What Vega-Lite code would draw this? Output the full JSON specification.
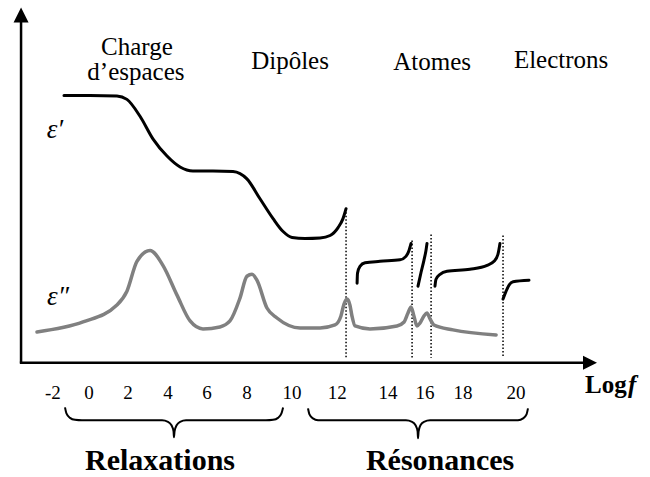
{
  "$schema": "https://vega.github.io/schema/vega-lite/v6.json",
  "width": 650,
  "height": 477,
  "autosize": {"type": "fit", "contains": "padding"},
  "padding": 0,
  "background": "white",
  "config": {"view": {"stroke": null}},
  "datasets": {
    "axes": [
      {"x": -3.27, "y": 0, "x2": -3.27, "y2": 34.3},
      {"x": -3.33, "y": 0, "x2": 24.32, "y2": 0}
    ],
    "arrowUp": [{"x": -3.27, "y": 35.0}],
    "arrowRight": [{"x": 24.565, "y": 0}],
    "dotted": [
      {"x": 12.63, "y": 15.5, "y2": 0.5},
      {"x": 15.86, "y": 12.3, "y2": 0.4},
      {"x": 16.79, "y": 12.9, "y2": 0.5},
      {"x": 20.31, "y": 12.8, "y2": 0.5}
    ],
    "grey": [
      {"x": -2.49, "y": 3.1}, {"x": -0.24, "y": 4.1}, {"x": 1.42, "y": 5.8}, {"x": 1.91, "y": 7.2},
      {"x": 2.40, "y": 10.2}, {"x": 3.04, "y": 11.3}, {"x": 3.67, "y": 9.8}, {"x": 4.36, "y": 6.8},
      {"x": 5.00, "y": 4.2}, {"x": 5.63, "y": 3.4}, {"x": 6.46, "y": 3.6}, {"x": 6.95, "y": 4.2},
      {"x": 7.44, "y": 6.5}, {"x": 7.78, "y": 8.7}, {"x": 8.03, "y": 8.9}, {"x": 8.27, "y": 8.3},
      {"x": 8.76, "y": 5.5}, {"x": 9.25, "y": 4.5}, {"x": 10.38, "y": 3.5}, {"x": 11.36, "y": 3.5},
      {"x": 12.09, "y": 3.8}, {"x": 12.38, "y": 4.7}, {"x": 12.53, "y": 5.9}, {"x": 12.68, "y": 6.4},
      {"x": 12.82, "y": 5.8}, {"x": 12.92, "y": 4.7}, {"x": 13.07, "y": 3.7}, {"x": 13.80, "y": 3.4},
      {"x": 15.12, "y": 3.7}, {"x": 15.47, "y": 4.1}, {"x": 15.66, "y": 5.0}, {"x": 15.81, "y": 5.6},
      {"x": 15.95, "y": 4.7}, {"x": 16.10, "y": 3.7}, {"x": 16.25, "y": 4.0}, {"x": 16.44, "y": 4.7},
      {"x": 16.59, "y": 5.0}, {"x": 16.74, "y": 4.4}, {"x": 16.93, "y": 3.8}, {"x": 17.86, "y": 3.3},
      {"x": 19.97, "y": 2.8}
    ],
    "black": [
      {"seg": "main", "x": -1.17, "y": 26.9}, {"seg": "main", "x": 0.10, "y": 26.9},
      {"seg": "main", "x": 1.42, "y": 26.85}, {"seg": "main", "x": 1.91, "y": 26.5},
      {"seg": "main", "x": 2.55, "y": 24.8}, {"seg": "main", "x": 3.19, "y": 22.5},
      {"seg": "main", "x": 3.87, "y": 20.8}, {"seg": "main", "x": 4.51, "y": 19.7},
      {"seg": "main", "x": 5.14, "y": 19.3}, {"seg": "main", "x": 6.12, "y": 19.3},
      {"seg": "main", "x": 7.10, "y": 19.25}, {"seg": "main", "x": 7.78, "y": 18.5},
      {"seg": "main", "x": 8.42, "y": 16.5}, {"seg": "main", "x": 9.06, "y": 14.5},
      {"seg": "main", "x": 9.55, "y": 13.2}, {"seg": "main", "x": 9.99, "y": 12.6},
      {"seg": "main", "x": 10.62, "y": 12.5}, {"seg": "main", "x": 11.36, "y": 12.55},
      {"seg": "main", "x": 11.85, "y": 12.8}, {"seg": "main", "x": 12.24, "y": 13.6},
      {"seg": "main", "x": 12.48, "y": 14.5}, {"seg": "main", "x": 12.63, "y": 15.5},
      {"seg": "A", "x": 13.17, "y": 8.0}, {"seg": "A", "x": 13.19, "y": 9.0}, {"seg": "A", "x": 13.31, "y": 9.7},
      {"seg": "A", "x": 13.56, "y": 10.05}, {"seg": "A", "x": 14.29, "y": 10.2}, {"seg": "A", "x": 15.27, "y": 10.35},
      {"seg": "A", "x": 15.56, "y": 10.7}, {"seg": "A", "x": 15.71, "y": 11.3}, {"seg": "A", "x": 15.81, "y": 12.0},
      {"seg": "B", "x": 16.15, "y": 7.7}, {"seg": "B", "x": 16.30, "y": 9.1}, {"seg": "B", "x": 16.44, "y": 10.3},
      {"seg": "B", "x": 16.54, "y": 11.3}, {"seg": "B", "x": 16.59, "y": 12.0},
      {"seg": "C", "x": 16.98, "y": 7.7}, {"seg": "C", "x": 17.03, "y": 8.4}, {"seg": "C", "x": 17.23, "y": 8.9},
      {"seg": "C", "x": 17.57, "y": 9.2}, {"seg": "C", "x": 18.69, "y": 9.4}, {"seg": "C", "x": 19.53, "y": 9.8},
      {"seg": "C", "x": 19.87, "y": 10.2}, {"seg": "C", "x": 20.06, "y": 10.9}, {"seg": "C", "x": 20.16, "y": 12.0},
      {"seg": "D", "x": 20.31, "y": 6.4}, {"seg": "D", "x": 20.46, "y": 7.2}, {"seg": "D", "x": 20.60, "y": 7.8},
      {"seg": "D", "x": 20.80, "y": 8.15}, {"seg": "D", "x": 21.58, "y": 8.3}
    ],
    "braces": [
      {"b": "L", "o": 1, "x": -1.12, "y": -4.5}, {"b": "L", "o": 2, "x": -1.05, "y": -5.1},
      {"b": "L", "o": 3, "x": -0.875, "y": -5.55}, {"b": "L", "o": 4, "x": -0.63, "y": -5.75},
      {"b": "L", "o": 5, "x": -0.29, "y": -5.8}, {"b": "L", "o": 6, "x": 3.63, "y": -5.8},
      {"b": "L", "o": 7, "x": 3.92, "y": -5.95}, {"b": "L", "o": 8, "x": 4.09, "y": -6.3},
      {"b": "L", "o": 9, "x": 4.19, "y": -6.9}, {"b": "L", "o": 10, "x": 4.21, "y": -7.5},
      {"b": "L", "o": 11, "x": 4.24, "y": -6.9}, {"b": "L", "o": 12, "x": 4.34, "y": -6.3},
      {"b": "L", "o": 13, "x": 4.51, "y": -5.95}, {"b": "L", "o": 14, "x": 4.80, "y": -5.8},
      {"b": "L", "o": 15, "x": 8.71, "y": -5.8}, {"b": "L", "o": 16, "x": 9.06, "y": -5.75},
      {"b": "L", "o": 17, "x": 9.30, "y": -5.55}, {"b": "L", "o": 18, "x": 9.47, "y": -5.1},
      {"b": "L", "o": 19, "x": 9.55, "y": -4.5},
      {"b": "R", "o": 1, "x": 10.77, "y": -4.6}, {"b": "R", "o": 2, "x": 10.84, "y": -5.2},
      {"b": "R", "o": 3, "x": 11.01, "y": -5.6}, {"b": "R", "o": 4, "x": 11.26, "y": -5.78},
      {"b": "R", "o": 5, "x": 11.6, "y": -5.8}, {"b": "R", "o": 6, "x": 15.56, "y": -5.8},
      {"b": "R", "o": 7, "x": 15.86, "y": -5.95}, {"b": "R", "o": 8, "x": 16.03, "y": -6.3},
      {"b": "R", "o": 9, "x": 16.13, "y": -6.9}, {"b": "R", "o": 10, "x": 16.15, "y": -7.6},
      {"b": "R", "o": 11, "x": 16.18, "y": -6.9}, {"b": "R", "o": 12, "x": 16.27, "y": -6.3},
      {"b": "R", "o": 13, "x": 16.44, "y": -5.95}, {"b": "R", "o": 14, "x": 16.74, "y": -5.8},
      {"b": "R", "o": 15, "x": 20.7, "y": -5.8}, {"b": "R", "o": 16, "x": 21.04, "y": -5.78},
      {"b": "R", "o": 17, "x": 21.29, "y": -5.6}, {"b": "R", "o": 18, "x": 21.46, "y": -5.2},
      {"b": "R", "o": 19, "x": 21.53, "y": -4.6}
    ],
    "titles": [
      {"t": "Charge", "x": 2.40, "y": 31.0},
      {"t": "d’espaces", "x": 2.35, "y": 28.4},
      {"t": "Dipôles", "x": 9.89, "y": 29.6},
      {"t": "Atomes", "x": 16.84, "y": 29.5},
      {"t": "Electrons", "x": 23.15, "y": 29.7}
    ],
    "eps": [
      {"t": "ε′", "x": -1.61, "y": 22.6},
      {"t": "ε″", "x": -1.46, "y": 5.8}
    ],
    "tickLabels": [
      {"t": "-2", "x": -1.71, "y": -3.7}, {"t": "0", "x": 0.05, "y": -3.7},
      {"t": "2", "x": 1.96, "y": -3.7}, {"t": "4", "x": 3.92, "y": -3.7},
      {"t": "6", "x": 5.83, "y": -3.7}, {"t": "8", "x": 7.78, "y": -3.7},
      {"t": "10", "x": 9.99, "y": -3.7},
      {"t": "14", "x": 14.68, "y": -3.7}, {"t": "16", "x": 16.49, "y": -3.7},
      {"t": "18", "x": 18.35, "y": -3.7}, {"t": "20", "x": 20.95, "y": -3.7}
    ],
    "tick12": [{"t": "12", "x": 12.2, "y": -3.7}],
    "logLabel": [{"t": "Log", "x": 24.32, "y": -3.0}],
    "fLabel": [{"t": "f", "x": 26.42, "y": -3.0}],
    "groups": [
      {"t": "Relaxations", "x": 3.53, "y": -10.8},
      {"t": "Résonances", "x": 17.23, "y": -10.8}
    ]
  },
  "encoding": {
    "x": {"field": "x", "type": "quantitative", "scale": {"domain": [-4.3, 27.5], "nice": false, "zero": false}, "axis": null},
    "y": {"field": "y", "type": "quantitative", "scale": {"domain": [-11.2, 36.5], "nice": false, "zero": false}, "axis": null}
  },
  "layer": [
    {
      "data": {"name": "axes"},
      "mark": {"type": "rule", "color": "black", "strokeWidth": 2.5},
      "encoding": {"x2": {"field": "x2"}, "y2": {"field": "y2"}}
    },
    {
      "data": {"name": "arrowUp"},
      "mark": {"type": "point", "shape": "M0,-1L-1,1L1,1Z", "size": 225, "filled": true, "color": "black", "opacity": 1},
      "encoding": {}
    },
    {
      "data": {"name": "arrowRight"},
      "mark": {"type": "point", "shape": "M1,0L-1,-1L-1,1Z", "size": 196, "filled": true, "color": "black", "opacity": 1},
      "encoding": {}
    },
    {
      "data": {"name": "dotted"},
      "mark": {"type": "rule", "color": "black", "strokeWidth": 1.5, "strokeDash": [1.5, 2]},
      "encoding": {"y2": {"field": "y2"}}
    },
    {
      "data": {"name": "grey"},
      "mark": {"type": "line", "interpolate": "monotone", "color": "#808080", "strokeWidth": 3.5, "strokeCap": "round", "strokeJoin": "round"},
      "encoding": {}
    },
    {
      "data": {"name": "black"},
      "mark": {"type": "line", "interpolate": "monotone", "color": "black", "strokeWidth": 3, "strokeCap": "round", "strokeJoin": "round"},
      "encoding": {"detail": {"field": "seg", "type": "nominal"}}
    },
    {
      "data": {"name": "braces"},
      "mark": {"type": "line", "interpolate": "monotone", "color": "black", "strokeWidth": 2},
      "encoding": {"detail": {"field": "b", "type": "nominal"}, "order": {"field": "o", "type": "quantitative"}}
    },
    {
      "data": {"name": "titles"},
      "mark": {"type": "text", "font": "Liberation Serif", "fontSize": 25, "align": "center", "baseline": "alphabetic", "color": "black"},
      "encoding": {"text": {"field": "t", "type": "nominal"}}
    },
    {
      "data": {"name": "eps"},
      "mark": {"type": "text", "font": "Liberation Serif", "fontSize": 27, "fontStyle": "italic", "align": "center", "baseline": "alphabetic", "color": "black"},
      "encoding": {"text": {"field": "t", "type": "nominal"}}
    },
    {
      "data": {"name": "tickLabels"},
      "mark": {"type": "text", "font": "Liberation Serif", "fontSize": 19, "align": "center", "baseline": "alphabetic", "color": "black"},
      "encoding": {"text": {"field": "t", "type": "nominal"}}
    },
    {
      "data": {"name": "tick12"},
      "mark": {"type": "text", "font": "Liberation Serif", "fontSize": 19, "align": "center", "baseline": "alphabetic", "color": "black"},
      "encoding": {"text": {"field": "t", "type": "nominal"}}
    },
    {
      "data": {"name": "logLabel"},
      "mark": {"type": "text", "font": "Liberation Serif", "fontSize": 25, "fontWeight": "bold", "align": "left", "baseline": "alphabetic", "color": "black"},
      "encoding": {"text": {"field": "t", "type": "nominal"}}
    },
    {
      "data": {"name": "fLabel"},
      "mark": {"type": "text", "font": "Liberation Serif", "fontSize": 25, "fontWeight": "bold", "fontStyle": "italic", "align": "left", "baseline": "alphabetic", "color": "black"},
      "encoding": {"text": {"field": "t", "type": "nominal"}}
    },
    {
      "data": {"name": "groups"},
      "mark": {"type": "text", "font": "Liberation Serif", "fontSize": 30, "fontWeight": "bold", "align": "center", "baseline": "alphabetic", "color": "black"},
      "encoding": {"text": {"field": "t", "type": "nominal"}}
    }
  ]
}
